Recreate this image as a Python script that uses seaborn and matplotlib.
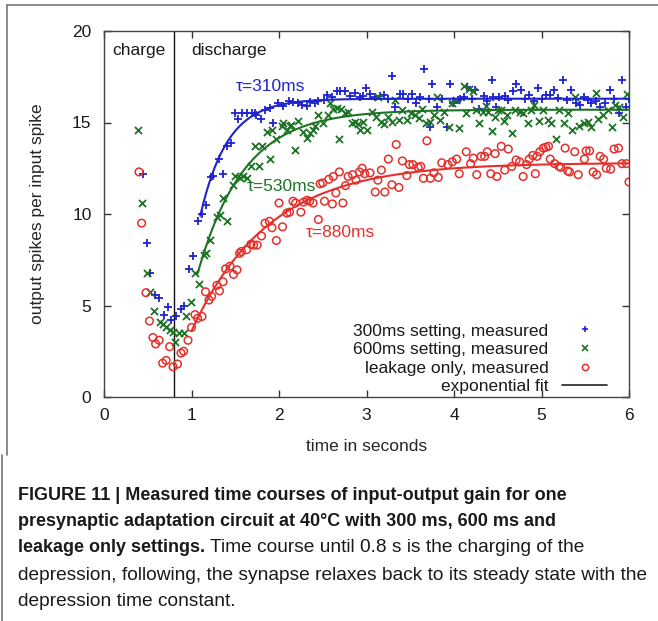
import numpy as np
import pandas as pd
import matplotlib
matplotlib.use("Agg")
import matplotlib.pyplot as plt
import seaborn as sns
from matplotlib.lines import Line2D

# ---------------- data ----------------
blue_t = [0.44, 0.49, 0.53, 0.58, 0.63, 0.68, 0.73, 0.77, 0.82, 0.88, 0.91, 0.97, 1.02, 1.07, 1.12,
          1.17, 1.22, 1.25, 1.31, 1.36, 1.40, 1.45, 1.50, 1.53, 1.58, 1.63, 1.69, 1.72, 1.74, 1.79,
          1.84, 1.90, 1.93, 1.99, 2.04, 2.11, 2.16, 2.22, 2.26, 2.32, 2.35, 2.41, 2.45, 2.51, 2.55,
          2.60, 2.66, 2.70, 2.75, 2.81, 2.87, 2.92, 2.96, 2.99, 3.04, 3.10, 3.15, 3.20, 3.24, 3.29,
          3.32, 3.38, 3.42, 3.47, 3.52, 3.56, 3.61, 3.66, 3.71, 3.73, 3.75, 3.81, 3.86, 3.92, 3.95,
          3.99, 4.04, 4.07, 4.11, 4.15, 4.20, 4.24, 4.28, 4.34, 4.38, 4.43, 4.45, 4.48, 4.52, 4.58,
          4.62, 4.67, 4.71, 4.76, 4.81, 4.86, 4.91, 4.96, 5.01, 5.05, 5.10, 5.14, 5.19, 5.24, 5.29,
          5.34, 5.39, 5.44, 5.48, 5.53, 5.57, 5.62, 5.67, 5.73, 5.78, 5.83, 5.88, 5.92, 5.97, 6.00]
blue_y = [12.2, 8.4, 6.8, 5.55, 5.4, 4.5, 4.9, 4.2, 4.4, 4.8, 4.95, 7.0, 7.7, 9.6, 10.0,
          10.5, 12.0, 12.1, 13.0, 12.2, 13.7, 13.9, 15.5, 15.2, 15.5, 15.5, 15.5, 15.5, 15.4, 15.2,
          15.7, 15.8, 14.95, 16.05, 15.9, 16.15, 16.1, 16.05, 15.95, 15.9, 16.1, 16.05, 16.15, 16.25, 16.5,
          16.4, 16.7, 16.7, 16.7, 16.45, 16.6, 16.4, 16.45, 16.9, 16.55, 16.4, 16.45, 16.5, 16.3, 17.55,
          15.85, 16.55, 16.55, 16.3, 16.55, 16.05, 16.4, 17.9, 16.3, 14.75, 17.1, 15.85, 16.3, 14.75, 17.1,
          16.05, 16.25, 16.3, 16.4, 16.95, 16.3, 16.75, 15.75, 16.45, 16.2, 17.3, 16.4, 15.85, 16.4, 16.45,
          16.25, 16.7, 17.1, 16.8, 16.3, 16.5, 16.2, 16.9, 16.3, 16.5, 16.5, 16.8, 16.35, 17.3, 16.25,
          16.8, 16.05, 15.95, 16.4, 16.25, 16.05, 16.15, 15.85, 16.05, 16.8, 16.3, 15.5, 17.3, 15.85, 16.3]

green_t = [0.39, 0.43, 0.49, 0.53, 0.57, 0.64, 0.67, 0.71, 0.75, 0.79, 0.81, 0.86, 0.91, 0.94, 0.99,
           1.04, 1.08, 1.14, 1.17, 1.21, 1.29, 1.32, 1.36, 1.40, 1.47, 1.50, 1.55, 1.59, 1.63, 1.68,
           1.72, 1.77, 1.80, 1.86, 1.90, 1.92, 1.97, 2.03, 2.05, 2.09, 2.12, 2.14, 2.18, 2.22, 2.27,
           2.32, 2.35, 2.39, 2.41, 2.45, 2.50, 2.56, 2.58, 2.62, 2.66, 2.69, 2.71, 2.75, 2.79, 2.83,
           2.87, 2.90, 2.93, 2.96, 3.01, 3.06, 3.11, 3.13, 3.16, 3.20, 3.25, 3.29, 3.32, 3.37, 3.41,
           3.46, 3.51, 3.55, 3.60, 3.63, 3.68, 3.72, 3.77, 3.81, 3.84, 3.88, 3.94, 3.98, 4.02, 4.06,
           4.11, 4.14, 4.17, 4.22, 4.25, 4.29, 4.33, 4.36, 4.39, 4.43, 4.47, 4.50, 4.54, 4.57, 4.61,
           4.66, 4.70, 4.75, 4.79, 4.84, 4.88, 4.91, 4.97, 5.02, 5.07, 5.11, 5.16, 5.20, 5.26, 5.30,
           5.35, 5.38, 5.43, 5.48, 5.53, 5.57, 5.62, 5.65, 5.70, 5.76, 5.81, 5.84, 5.88, 5.93, 5.98]
green_y = [14.6, 10.6, 6.8, 5.75, 4.7, 4.1, 4.0, 3.85, 3.65, 3.55, 3.0, 3.5, 3.5, 4.4, 5.2,
           6.75, 6.2, 7.75, 7.85, 8.6, 9.85, 9.95, 10.9, 9.6, 11.6, 12.05, 11.95, 12.1, 11.95, 12.6,
           13.7, 12.6, 13.7, 14.5, 13.0, 14.6, 14.1, 14.8, 14.95, 14.6, 14.8, 14.85, 13.5, 15.1, 14.5,
           14.15, 14.4, 14.6, 14.8, 15.4, 15.0, 15.4, 16.05, 15.75, 15.8, 14.1, 15.75, 15.5, 15.6, 14.95,
           15.05, 14.9, 14.6, 15.05, 14.6, 15.55, 15.3, 16.4, 15.05, 14.9, 15.3, 15.05, 16.25, 15.15, 15.7,
           15.15, 15.5, 15.4, 15.25, 15.75, 14.95, 15.05, 15.4, 16.4, 15.15, 15.6, 14.75, 16.05, 16.25, 14.7,
           17.0, 15.5, 16.85, 16.7, 15.7, 14.95, 15.6, 15.9, 15.55, 14.55, 15.3, 15.7, 15.7, 15.1, 15.4,
           14.4, 15.7, 15.6, 15.5, 14.95, 15.7, 15.95, 15.1, 15.7, 15.15, 14.95, 14.1, 15.7, 15.0, 15.5,
           14.6, 16.4, 14.8, 14.95, 15.05, 14.75, 16.6, 15.2, 15.4, 15.7, 14.75, 15.95, 15.85, 15.3, 16.55]

red_t = [0.40, 0.43, 0.48, 0.52, 0.56, 0.59, 0.63, 0.67, 0.71, 0.75, 0.79, 0.84, 0.88, 0.91, 0.96,
         1.00, 1.04, 1.07, 1.12, 1.16, 1.20, 1.23, 1.29, 1.32, 1.36, 1.39, 1.44, 1.48, 1.52, 1.55,
         1.57, 1.63, 1.68, 1.71, 1.75, 1.80, 1.84, 1.89, 1.92, 1.97, 2.00, 2.04, 2.09, 2.12, 2.16,
         2.19, 2.25, 2.28, 2.32, 2.35, 2.39, 2.45, 2.47, 2.50, 2.52, 2.57, 2.61, 2.62, 2.65, 2.69,
         2.73, 2.76, 2.79, 2.84, 2.88, 2.92, 2.95, 2.98, 3.04, 3.10, 3.13, 3.17, 3.21, 3.25, 3.29,
         3.34, 3.37, 3.41, 3.46, 3.49, 3.53, 3.59, 3.62, 3.65, 3.69, 3.73, 3.77, 3.82, 3.86, 3.93,
         3.98, 4.03, 4.06, 4.14, 4.19, 4.22, 4.26, 4.31, 4.35, 4.38, 4.42, 4.47, 4.49, 4.54, 4.58,
         4.62, 4.66, 4.71, 4.75, 4.79, 4.83, 4.86, 4.90, 4.93, 4.95, 4.98, 5.02, 5.05, 5.08, 5.10,
         5.15, 5.20, 5.22, 5.27, 5.30, 5.32, 5.38, 5.42, 5.49, 5.51, 5.55, 5.59, 5.63, 5.67, 5.71,
         5.74, 5.79, 5.83, 5.88, 5.92, 5.97, 6.00]
red_y = [12.3, 9.5, 5.7, 4.15, 3.25, 2.9, 3.1, 1.85, 2.0, 2.75, 1.65, 1.8, 2.4, 2.5, 3.1,
         3.8, 4.5, 4.3, 4.4, 5.75, 5.3, 5.5, 6.1, 5.8, 6.3, 7.0, 7.15, 6.7, 6.95, 7.85,
         7.95, 8.05, 8.35, 8.3, 8.3, 8.8, 9.5, 9.6, 9.25, 8.55, 10.6, 9.3, 10.05, 10.1, 10.7,
         10.6, 10.1, 10.65, 10.75, 10.7, 10.6, 9.7, 11.65, 11.7, 10.7, 11.9, 10.55, 12.05, 11.15, 12.3,
         10.6, 11.55, 12.05, 12.15, 11.85, 12.3, 12.5, 12.2, 12.25, 11.2, 11.85, 12.4, 11.2, 13.0, 11.6,
         13.8, 11.45, 12.9, 12.1, 12.7, 12.7, 12.55, 12.6, 11.95, 14.0, 11.95, 12.25, 12.0, 12.8, 12.7,
         12.85, 13.0, 12.2, 13.4, 12.75, 13.05, 12.15, 13.15, 13.15, 13.4, 12.2, 13.3, 12.05, 13.7, 12.4,
         13.55, 12.6, 12.95, 12.85, 12.05, 12.7, 13.0, 13.2, 12.2, 13.15, 13.4, 13.6, 13.65, 13.7, 13.0,
         12.75, 12.6, 12.55, 13.6, 12.35, 12.3, 13.4, 12.15, 13.0, 13.45, 13.45, 12.3, 12.15, 13.15, 13.0,
         12.5, 12.45, 13.55, 13.6, 12.75, 12.75, 11.75]

# exponential fits: tau (s), fit start time, value at start, asymptote
fit_tau = [0.31, 0.53, 0.88]
fit_start = [1.10, 1.07, 1.00]
fit_y0 = [9.9, 6.75, 3.6]
fit_inf = [16.3, 15.7, 12.8]
fit_labels = ["τ=310ms", "τ=530ms", "τ=880ms"]
legend_labels = ["300ms setting, measured", "600ms setting, measured",
                 "leakage only, measured", "exponential fit"]
x_ticks = [0, 1, 2, 3, 4, 5, 6]
y_ticks = [0, 5, 10, 15, 20]

BLUE = "#1f23cf"
GREEN = "#1d7324"
RED = "#e4302b"
colors = [BLUE, GREEN, RED]

# ---------------- figure ----------------
sns.set_theme(style="white")
plt.rcParams['font.family'] = ['Liberation Sans', 'DejaVu Sans']
plt.rcParams['text.color'] = '#1a1a1a'

W, H = 658, 621
fig = plt.figure(figsize=(W / 100, H / 100), dpi=100)
fig.patch.set_facecolor("white")
ax = fig.add_axes([104 / W, 1 - 397 / H, 525 / W, 366 / H])
ax.set_facecolor("white")

FS = 12.5

# scatter points
sns.scatterplot(x=blue_t, y=blue_y, ax=ax, marker="+", s=34, color=BLUE,
                edgecolor=BLUE, linewidth=1.3, zorder=3)
sns.scatterplot(x=green_t, y=green_y, ax=ax, marker="x", s=26, color=GREEN,
                edgecolor=GREEN, linewidth=1.3, zorder=3)
sns.scatterplot(x=red_t, y=red_y, ax=ax, marker="o", s=30, facecolor="none",
                edgecolor=RED, linewidth=1.1, zorder=3)

# fit curves
for tau, t0, y0, yinf, c in zip(fit_tau, fit_start, fit_y0, fit_inf, colors):
    tt = np.linspace(t0, 6.0, 300)
    yy = yinf - (yinf - y0) * np.exp(-(tt - t0) / tau)
    sns.lineplot(x=tt, y=yy, ax=ax, color=c, linewidth=1.5, zorder=4, sort=False,
                 estimator=None)

# charge / discharge separator
ax.axvline(0.8, color="#111111", linewidth=1.0, zorder=2)
ax.text(0.40, 18.95, "charge", ha="center", va="center", fontsize=FS)
ax.text(1.00, 18.95, "discharge", ha="left", va="center", fontsize=FS)

# tau annotations
ax.text(1.50, 16.95, fit_labels[0], color=BLUE, ha="left", va="center", fontsize=FS)
ax.text(1.63, 11.5, fit_labels[1], color=GREEN, ha="left", va="center", fontsize=FS)
ax.text(2.31, 9.0, fit_labels[2], color=RED, ha="left", va="center", fontsize=FS)

ax.set_xlim(0, 6)
ax.set_ylim(0, 20)
ax.set_xticks(x_ticks)
ax.set_yticks(y_ticks)
ax.set_xticklabels([str(v) for v in x_ticks])
ax.set_yticklabels([str(v) for v in y_ticks])
ax.tick_params(direction="in", length=5, width=1, colors="#333333", labelcolor="#1a1a1a",
               labelsize=FS, top=True, right=True, bottom=True, left=True)
ax.tick_params(axis="x", pad=8)
ax.tick_params(axis="y", pad=9)
for sp in ax.spines.values():
    sp.set_color("#444444")
    sp.set_linewidth(1.0)
    sp.set_visible(True)

ax.set_xlabel("time in seconds", fontsize=FS)
ax.set_ylabel("output spikes per input spike", fontsize=FS)
ax.xaxis.set_label_coords(0.5, -0.115)
ax.yaxis.set_label_coords(-0.112, 0.5)

handles = [
    Line2D([], [], marker="+", ls="none", color=BLUE, markersize=5, markeredgewidth=1.2),
    Line2D([], [], marker="x", ls="none", color=GREEN, markersize=4, markeredgewidth=1.2),
    Line2D([], [], marker="o", ls="none", markerfacecolor="none", markeredgecolor=RED,
           markersize=4.5, markeredgewidth=1.1),
    Line2D([], [], color="#222222", linewidth=1.2),
]
leg = ax.legend(handles, legend_labels, loc="lower right", bbox_to_anchor=(0.972, -0.012),
                frameon=False, fontsize=FS, markerfirst=False, handlelength=2.6,
                handletextpad=0.8, labelspacing=0.2, borderaxespad=0.0)

# frame lines of the figure panel
fig.add_artist(Line2D([7 / W, 1.0], [1 - 5 / H, 1 - 5 / H], color="#777777", linewidth=1.2))
fig.add_artist(Line2D([7 / W, 7 / W], [1 - 5 / H, 1 - 455 / H], color="#777777", linewidth=1.2))
fig.add_artist(Line2D([2 / W, 2 / W], [1 - 455 / H, 0.0], color="#777777", linewidth=1.2))

# caption
BFS = 12.95
RFS = 13.8
x0 = 18 / W
ys = [495, 522, 548, 575, 601]
fig.text(x0, 1 - ys[0] / H, "FIGURE 11 | Measured time courses of input-output gain for one",
         fontsize=BFS, fontweight="bold", va="center", ha="left")
fig.text(x0, 1 - ys[1] / H, "presynaptic adaptation circuit at 40°C with 300 ms, 600 ms and",
         fontsize=BFS, fontweight="bold", va="center", ha="left")
tb = fig.text(x0, 1 - ys[2] / H, "leakage only settings.", fontsize=BFS, fontweight="bold",
              va="center", ha="left")
fig.canvas.draw()
bb = tb.get_window_extent(renderer=fig.canvas.get_renderer())
fig.text(bb.x1 / W + 5 / W, 1 - ys[2] / H, "Time course until 0.8 s is the charging of the",
         fontsize=RFS, va="center", ha="left")
fig.text(x0, 1 - ys[3] / H,
         "depression, following, the synapse relaxes back to its steady state with the",
         fontsize=RFS, va="center", ha="left")
fig.text(x0, 1 - ys[4] / H, "depression time constant.", fontsize=RFS, va="center", ha="left")

fig.savefig("out.png", dpi=100)
